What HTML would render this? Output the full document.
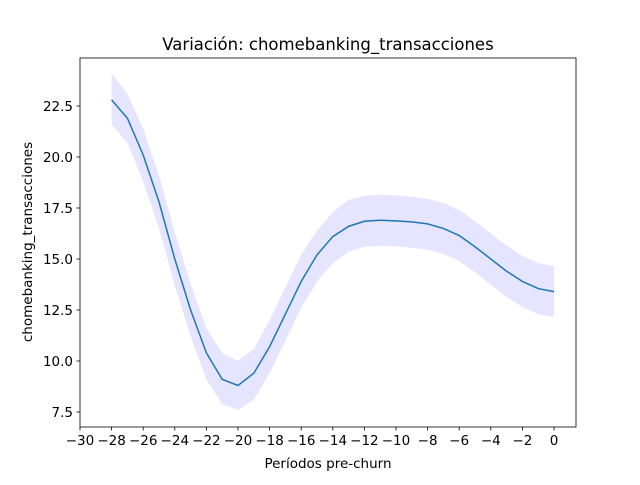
<!DOCTYPE html>
<html><head><meta charset="utf-8"><style>
body{margin:0;background:#fff;font-family:"Liberation Sans","DejaVu Sans",sans-serif}
</style></head><body>
<svg width="640" height="480" viewBox="0 0 640 480" font-family="DejaVu Sans, Liberation Sans, sans-serif">
<rect width="640" height="480" fill="#fff"/>
<g id="plot"></g>
</svg>
<script>
const periods=[-28,-27,-26,-25,-24,-23,-22,-21,-20,-19,-18,-17,-16,-15,-14,-13,-12,-11,-10,-9,-8,-7,-6,-5,-4,-3,-2,-1,0];
const meanVals=[22.8,21.9,20.1,17.8,15.0,12.5,10.4,9.1,8.8,9.4,10.7,12.3,13.9,15.2,16.1,16.6,16.85,16.9,16.87,16.82,16.72,16.5,16.15,15.6,15.0,14.4,13.9,13.55,13.4];
const upperVals=[24.1,23.1,21.4,19.1,16.3,13.8,11.6,10.4,10.0,10.6,12.0,13.6,15.2,16.4,17.3,17.9,18.1,18.15,18.12,18.05,17.95,17.75,17.4,16.85,16.25,15.65,15.15,14.8,14.65];
const lowerVals=[21.6,20.7,18.8,16.5,13.7,11.2,9.1,7.9,7.6,8.1,9.4,11.0,12.6,13.9,14.8,15.35,15.6,15.65,15.62,15.55,15.45,15.25,14.9,14.35,13.75,13.15,12.65,12.3,12.15];
const xTicks=[-30,-28,-26,-24,-22,-20,-18,-16,-14,-12,-10,-8,-6,-4,-2,0];
const yTicks=[7.5,10.0,12.5,15.0,17.5,20.0,22.5];
const L=80,R=576,T=58,B=427;
const sx=v=>554+v*15.8;
const sy=v=>412-(v-7.5)*20.4;
const NS='http://www.w3.org/2000/svg';
const g=document.getElementById('plot');
function mk(t,a,p){const e=document.createElementNS(NS,t);for(const k in a)e.setAttribute(k,a[k]);(p||g).appendChild(e);return e;}
let d='M'+periods.map((p,i)=>sx(p)+','+sy(upperVals[i])).join('L');
for(let i=periods.length-1;i>=0;i--)d+='L'+sx(periods[i])+','+sy(lowerVals[i]);
const band=mk('path',{d:d+'Z',fill:'#0000ff','fill-opacity':0.1,stroke:'none'});


const line=mk('polyline',{points:periods.map((p,i)=>sx(p)+','+sy(meanVals[i])).join(' '),fill:'none',stroke:'#1f77b4','stroke-width':1.5});


const frame=mk('rect',{x:L,y:T,width:R-L,height:B-T,fill:'none',stroke:'#000','stroke-width':0.8});


xTicks.forEach(v=>{const x=sx(v);mk('line',{x1:x,x2:x,y1:B,y2:B+3.5,stroke:'#000','stroke-width':0.8});
const t=mk('text',{x:x,y:B+18,'text-anchor':'middle','font-size':13.5,fill:'#000'});t.textContent=(v<0?'\u2212'+(-v):v);

});
yTicks.forEach(v=>{const y=sy(v);mk('line',{x1:L,x2:L-3.5,y1:y,y2:y,stroke:'#000','stroke-width':0.8});
const t=mk('text',{x:L-7,y:y+5,'text-anchor':'end','font-size':13.5,fill:'#000'});t.textContent=v.toFixed(1);

});
const ti=mk('text',{x:328,y:50,'text-anchor':'middle','font-size':16.5,fill:'#000'});ti.textContent='Variación: chomebanking_transacciones';


const xl=mk('text',{x:328,y:468,'text-anchor':'middle','font-size':13.5,fill:'#000'});xl.textContent='Períodos pre-churn';


const yl=mk('text',{x:0,y:0,'text-anchor':'middle','font-size':13.5,fill:'#000',transform:'translate(32,242) rotate(-90)'});yl.textContent='chomebanking_transacciones';


</script>
</body></html>
